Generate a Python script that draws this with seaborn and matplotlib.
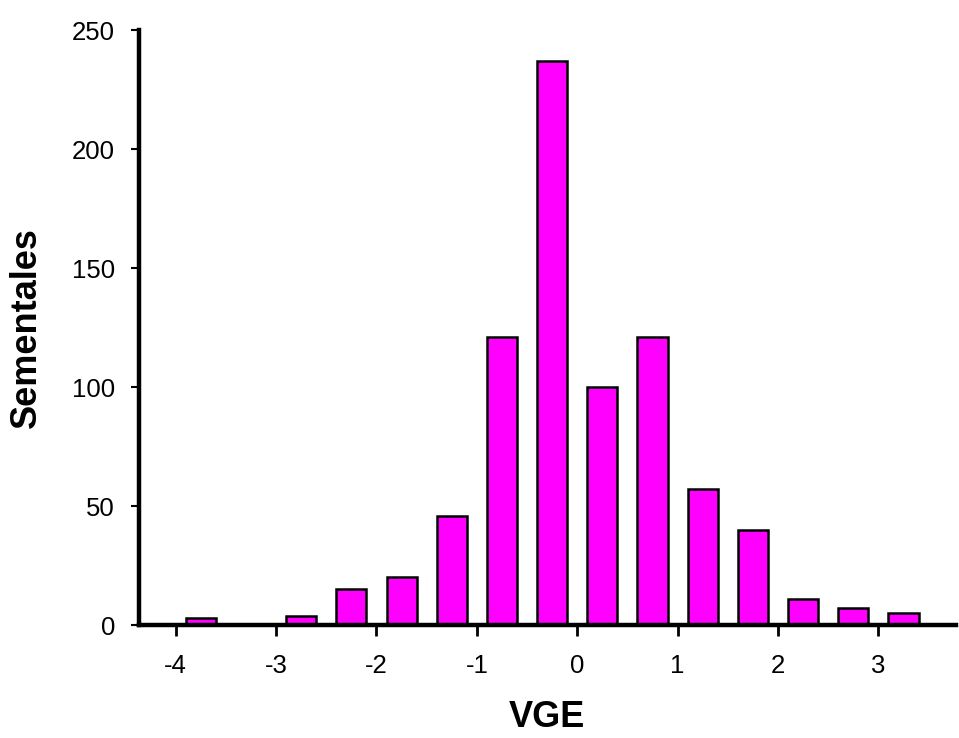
import matplotlib
matplotlib.use("Agg")
import matplotlib.pyplot as plt
import seaborn as sns
import pandas as pd

# VGE class centres and number of sires in each class
vge = [-3.75, -3.25, -2.75, -2.25, -1.75, -1.25, -0.75, -0.25,
       0.25, 0.75, 1.25, 1.75, 2.25, 2.75, 3.25]
sementales = [3, 0, 4, 15, 20, 46, 121, 237, 100, 121, 57, 40, 11, 7, 5]
xticks = [-4, -3, -2, -1, 0, 1, 2, 3]
yticks = [0, 50, 100, 150, 200, 250]

df = pd.DataFrame({"VGE": vge, "Sementales": sementales})

sns.set_style("white")
plt.rcParams['font.family'] = ['Liberation Sans', 'DejaVu Sans']

fig = plt.figure(figsize=(9.59, 7.38), dpi=100)
ax = fig.add_axes([0.1445, 0.153, 0.852, 0.806])

sns.barplot(data=df, x="VGE", y="Sementales", native_scale=True, width=0.6,
            color="#ff00ff", saturation=1, edgecolor="black", linewidth=1.8, ax=ax)

ax.set_xlim(-4.37, 3.77)
ax.set_ylim(0, 250)
ax.set_xticks(xticks)
ax.set_xticklabels([str(t) for t in xticks])
ax.set_yticks(yticks)

sns.despine(ax=ax)
for s in ["left", "bottom"]:
    ax.spines[s].set_linewidth(3.2)
    ax.spines[s].set_color("black")

ax.tick_params(axis="x", direction="out", length=8, width=2, labelsize=18.5, pad=13,
               bottom=True, colors="black")
ax.tick_params(axis="y", direction="out", length=6, width=1.5, labelsize=18.5, pad=11,
               left=True, colors="black")

ax.set_xlabel("VGE", fontsize=26, fontweight="bold", labelpad=16, color="black")
ax.set_ylabel("Sementales", fontsize=26, fontweight="bold", labelpad=20, color="black")

fig.savefig("out.png", dpi=100)
